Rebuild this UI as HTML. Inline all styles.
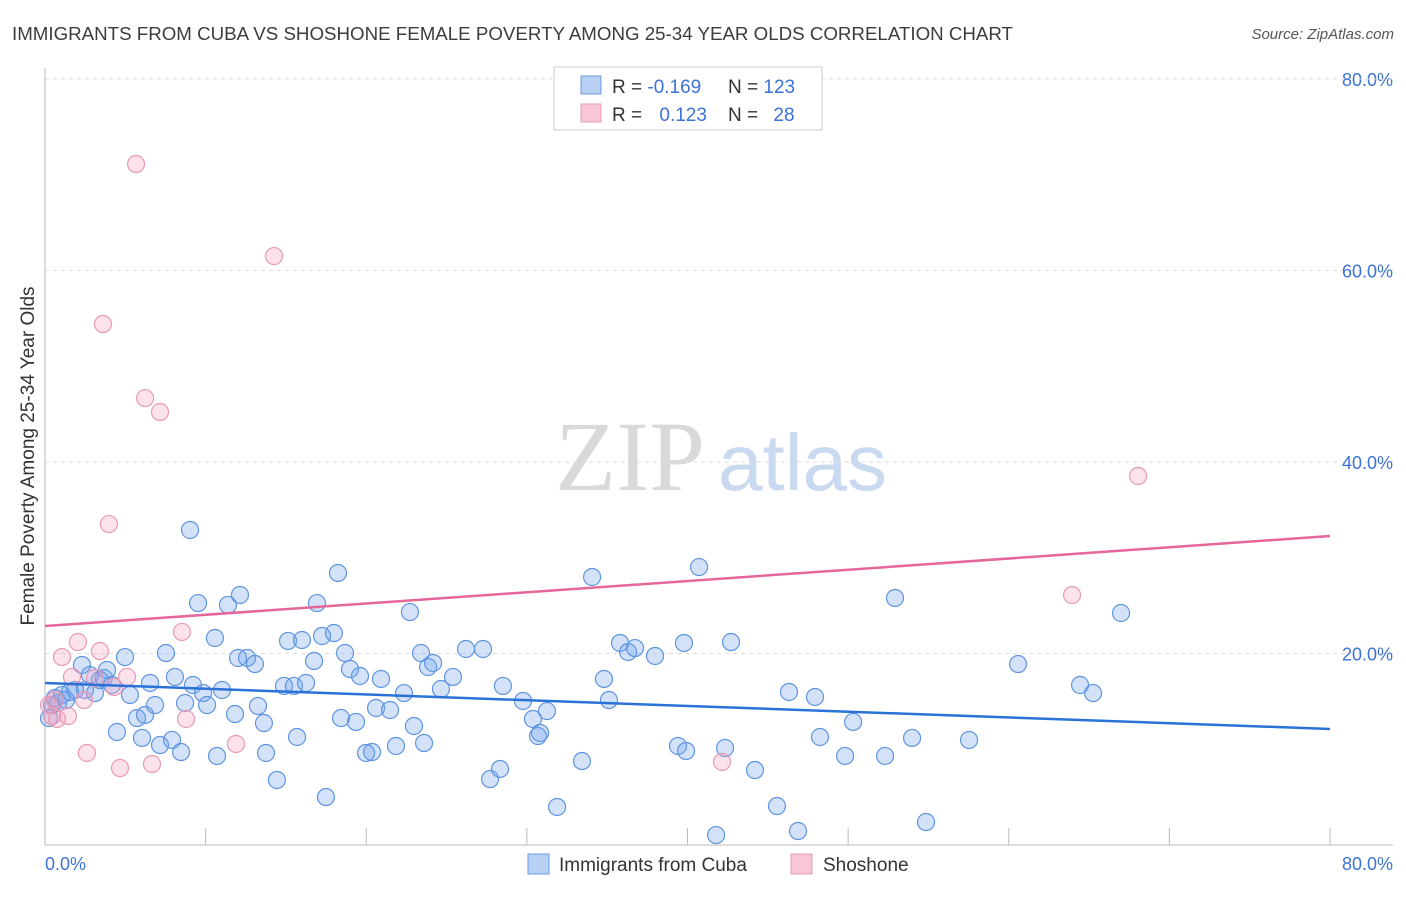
<!DOCTYPE html>
<html><head><meta charset="utf-8"><style>
body{margin:0;background:#fff;font-family:"Liberation Sans",sans-serif}
svg text{font-family:"Liberation Sans",sans-serif}
</style></head><body>
<svg id="chart" width="1406" height="892">
<text x="12" y="40" font-size="18" fill="#3c3c3c" textLength="1001" lengthAdjust="spacingAndGlyphs">IMMIGRANTS FROM CUBA VS SHOSHONE FEMALE POVERTY AMONG 25-34 YEAR OLDS CORRELATION CHART</text>
<text x="1394" y="39" font-size="15" fill="#555" text-anchor="end" font-style="italic">Source: ZipAtlas.com</text>
<text x="555" y="490" font-size="100" fill="#d9d9d9" style="font-family:'Liberation Serif',serif">ZIP</text>
<text x="718" y="490" font-size="80" fill="#c9d9f0">atlas</text>
<text transform="translate(34,456) rotate(-90)" font-size="19" fill="#333" text-anchor="middle">Female Poverty Among 25-34 Year Olds</text>
<g id="grid"></g><g id="axes"></g><g id="pts"></g><g id="lines"></g>
<g>
<rect x="554" y="67" width="268" height="63" fill="#fff" stroke="#ccc"/>
<rect x="581" y="76" width="20" height="18" fill="#b8d0f3" stroke="#6a9be0"/>
<rect x="581" y="104" width="20" height="18" fill="#f8c6d6" stroke="#e89ab4"/>
<text x="612" y="93" font-size="19" fill="#333">R = <tspan fill="#3b73d6">-0.169</tspan></text>
<text x="728" y="93" font-size="19" fill="#333">N = <tspan fill="#3b73d6">123</tspan></text>
<text x="612" y="121" font-size="19" fill="#333">R = <tspan fill="#3b73d6" dx="12">0.123</tspan></text>
<text x="728" y="121" font-size="19" fill="#333">N = <tspan fill="#3b73d6" dx="10">28</tspan></text>
</g>
<g>
<rect x="528" y="854" width="21" height="20" fill="#b8d0f3" stroke="#6a9be0"/>
<text x="559" y="871" font-size="19" fill="#333">Immigrants from Cuba</text>
<rect x="791" y="854" width="21" height="20" fill="#f8c6d6" stroke="#e89ab4"/>
<text x="823" y="871" font-size="19" fill="#333">Shoshone</text>
</g>
</svg>
<script>
const yTicks=[20,40,60,80];
const yTickLabels=["20.0%","40.0%","60.0%","80.0%"];
const cubaX=[0.25,0.44,0.62,0.81,1.06,1.31,1.56,1.87,2.30,2.49,2.80,3.11,3.42,3.67,3.86,4.17,4.48,4.98,5.29,5.73,6.04,6.23,6.54,6.85,7.16,7.53,7.91,8.09,8.47,8.72,9.03,9.21,9.53,9.84,10.09,10.58,10.71,11.02,11.39,11.83,12.14,12.02,12.58,13.07,13.26,13.63,13.76,14.44,14.88,15.13,15.50,15.69,16.00,16.25,16.75,16.93,17.25,17.49,17.99,18.24,18.43,18.68,18.99,19.36,19.61,19.99,20.36,20.61,20.92,21.48,21.85,22.35,22.72,22.97,23.41,23.60,23.85,24.16,24.65,25.40,26.21,27.27,27.71,28.33,28.51,29.76,30.38,30.69,30.82,31.25,31.88,33.43,34.06,34.80,35.11,35.80,36.30,36.73,37.98,39.41,39.78,39.91,40.72,41.78,42.34,42.71,44.20,45.57,46.32,46.88,47.94,48.25,49.81,50.31,52.30,52.92,53.98,54.85,57.53,60.58,64.44,65.25,66.99];
const cubaY=[13.26,14.62,15.35,14.83,15.67,15.14,15.98,16.19,18.80,16.19,17.75,15.87,17.23,17.44,18.28,16.71,11.80,19.63,15.67,13.26,11.18,13.58,16.92,14.62,10.44,20.05,10.97,17.55,9.71,14.83,32.90,16.71,25.27,15.87,14.62,21.62,9.30,16.19,25.07,13.68,26.11,19.53,19.53,18.90,14.52,12.74,9.61,6.79,16.61,21.31,16.61,11.28,21.41,16.92,19.22,25.27,21.83,5.01,22.14,28.41,13.26,20.05,18.38,12.85,17.65,9.61,9.71,14.31,17.34,14.10,10.34,15.87,24.33,12.43,20.05,10.65,18.59,19.01,16.29,17.55,20.47,20.47,6.89,7.94,16.61,15.04,13.16,11.38,11.70,13.99,3.97,8.77,27.99,17.34,15.14,21.10,20.16,20.57,19.74,10.34,21.10,9.82,29.03,1.04,10.13,21.20,7.83,4.07,15.98,1.46,15.46,11.28,9.30,12.85,9.30,25.80,11.18,2.40,10.97,18.90,16.71,15.87,24.23];
const shoX=[0.25,0.44,0.62,0.75,1.06,1.43,1.68,2.05,2.43,2.61,3.11,3.42,3.61,3.98,4.30,4.67,5.11,5.67,6.23,6.66,7.16,8.53,8.78,11.89,14.26,42.15,63.94,68.05];
const shoY=[14.62,13.47,15.14,13.16,19.63,13.47,17.55,21.20,15.14,9.61,17.44,20.26,54.41,33.52,16.50,8.04,17.55,71.12,46.68,8.46,45.22,22.25,13.16,10.55,61.51,8.67,26.11,38.54];
const cubaTrend=[16.92,12.12];
const shoTrend=[22.87,32.27];
const X0=45,X1=1330,Y0=845,PPY=191.5/20;
const sx=v=>X0+v/80*(X1-X0), sy=v=>Y0-v*PPY;
const NS="http://www.w3.org/2000/svg";
function mk(tag,attrs,parent){const e=document.createElementNS(NS,tag);for(const k in attrs)e.setAttribute(k,attrs[k]);document.getElementById(parent).appendChild(e);return e;}
yTicks.forEach((t,i)=>{
 const l=mk('line',{x1:X0,x2:1393,y1:sy(t),y2:sy(t),stroke:'#ddd','stroke-dasharray':'4,4'},'grid');
 
 
 const tx=mk('text',{x:1393,y:sy(t)+7,'font-size':18,fill:'#3b73d6','text-anchor':'end'},'grid');
 tx.textContent=yTickLabels[i];
 
 
});
const topGrid=mk('line',{x1:X0,x2:1393,y1:79,y2:79,stroke:'#ddd','stroke-dasharray':'4,4'},'grid');


const ya=mk('line',{x1:X0,x2:X0,y1:68,y2:Y0,stroke:'#bbb'},'axes');


const xa=mk('line',{x1:X0,x2:1393,y1:Y0,y2:Y0,stroke:'#bbb'},'axes');


for(let v=10;v<=80;v+=10){
 const t=mk('line',{x1:sx(v),x2:sx(v),y1:828,y2:Y0,stroke:'#bbb'},'axes');
 
 
}
const xl0=mk('text',{x:45,y:870,'font-size':18,fill:'#3b73d6'},'axes');xl0.textContent='0.0%';


const xl1=mk('text',{x:1393,y:870,'font-size':18,fill:'#3b73d6','text-anchor':'end'},'axes');xl1.textContent='80.0%';


cubaX.forEach((x,i)=>{
 const c=mk('circle',{cx:sx(x),cy:sy(cubaY[i]),r:8.5,fill:'rgba(110,160,235,0.3)',stroke:'#5f95e0','stroke-width':1.2},'pts');
 
 
});
shoX.forEach((x,i)=>{
 const c=mk('circle',{cx:sx(x),cy:sy(shoY[i]),r:8.5,fill:'rgba(245,160,190,0.3)',stroke:'#e89ab4','stroke-width':1.2},'pts');
 
 
});
const bl=mk('line',{x1:sx(0),x2:sx(80),y1:sy(cubaTrend[0]),y2:sy(cubaTrend[1]),stroke:'#2a72d8','stroke-width':2.5},'lines');


const pl=mk('line',{x1:sx(0),x2:sx(80),y1:sy(shoTrend[0]),y2:sy(shoTrend[1]),stroke:'#e5669a','stroke-width':2.5},'lines');


</script>
</body></html>
